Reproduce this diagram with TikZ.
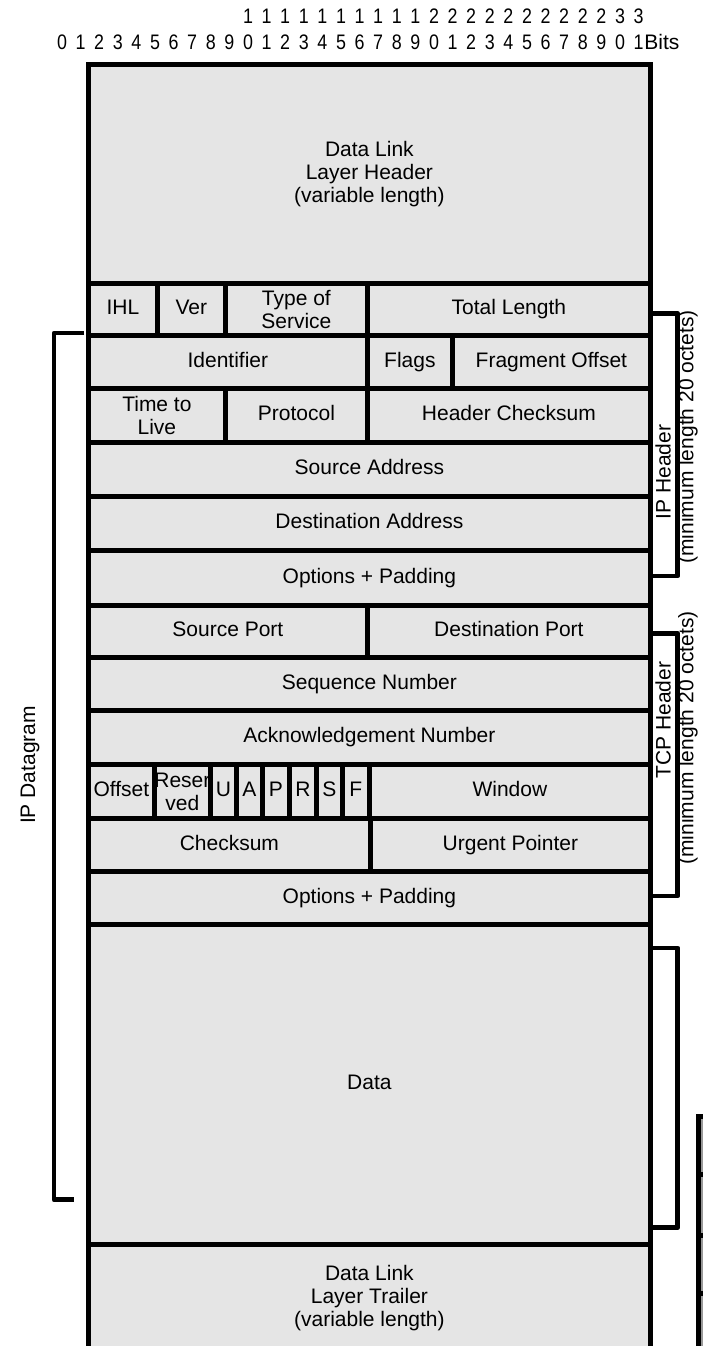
\documentclass[tikz,border=0pt]{standalone}
\usepackage{fontspec}
\setmainfont{Liberation Sans}
\newfontfamily\narrowfont[FakeStretch=0.85]{Liberation Sans}
\usetikzlibrary{calc}
\newcommand\mkcell[6]{\node[cell, minimum width=#4pt-#2pt, minimum height=#5pt-#3pt] (#1) at (#2,#3) {\vphantom{Ag}#6};}
\begin{document}
\begin{tikzpicture}[x=1pt,y=-1pt,
  cell/.style={draw, line width=4.8pt, fill=black!10, inner sep=0pt, anchor=north west, align=center, font=\fontsize{21}{23}\selectfont},
  brk/.style={draw, line width=4.8pt, line join=round},
  lbl/.style={font=\fontsize{21}{23}\selectfont, rotate=90, inner sep=0pt},
  bit/.style={font=\narrowfont\fontsize{21}{21}\selectfont, inner sep=0pt}]
\useasboundingbox (0,0) rectangle (702,1346);
% bit ruler
\foreach \i in {0,...,31} {
  \pgfmathtruncatemacro\d{mod(\i,10)}
  \node[bit] (b\i) at ({62+18.6*\i},42) {\d};
}
\foreach \i in {10,...,31} {
  \pgfmathtruncatemacro\d{\i/10}
  \node[bit] (t\i) at ({62+18.6*\i},16) {\d};
}
\node[bit, font=\fontsize{21}{21}\selectfont, anchor=west] (bits) at ($(b31.east)+(0.5,0)$) {Bits};
% cells
\mkcell{dlh}{86}{62}{648}{281}{Data Link\\Layer Header\\(variable length)}
\mkcell{ihl}{86}{281}{155}{333}{IHL}
\mkcell{ver}{155}{281}{223}{333}{Ver}
\mkcell{tos}{223}{281}{365}{333}{Type of\\Service}
\mkcell{tlen}{365}{281}{648}{333}{Total Length}
\mkcell{ident}{86}{333}{365}{386}{Identifier}
\mkcell{flags}{365}{333}{450}{386}{Flags}
\mkcell{frag}{450}{333}{648}{386}{Fragment Offset}
\mkcell{ttl}{86}{386}{223}{440}{Time to\\Live}
\mkcell{proto}{223}{386}{365}{440}{Protocol}
\mkcell{hcs}{365}{386}{648}{440}{Header Checksum}
\mkcell{src}{86}{440}{648}{494}{Source Address}
\mkcell{dst}{86}{494}{648}{548}{Destination Address}
\mkcell{opts}{86}{548}{648}{603}{Options + Padding}
\mkcell{sport}{86}{603}{365}{655}{Source Port}
\mkcell{dport}{365}{603}{648}{655}{Destination Port}
\mkcell{seq}{86}{655}{648}{708}{Sequence Number}
\mkcell{ack}{86}{708}{648}{762}{Acknowledgement Number}
\mkcell{off}{86}{762}{152}{816}{Offset}
\mkcell{res}{152}{762}{208}{816}{\fontsize{21}{20}\selectfont Reser\\ved}
\mkcell{fu}{208}{762}{234}{816}{U}
\mkcell{fa}{234}{762}{260}{816}{A}
\mkcell{fp}{260}{762}{287}{816}{P}
\mkcell{fr}{287}{762}{314}{816}{R}
\mkcell{fs}{314}{762}{340}{816}{S}
\mkcell{ff}{340}{762}{367}{816}{F}
\mkcell{win}{367}{762}{648}{816}{Window}
\mkcell{cks}{86}{816}{368}{869}{Checksum}
\mkcell{urg}{368}{816}{648}{869}{Urgent Pointer}
\mkcell{topts}{86}{869}{648}{922}{Options + Padding}
\mkcell{data}{86}{922}{648}{1242}{Data}
\mkcell{dlt}{86}{1242}{648}{1350}{Data Link\\Layer Trailer\\(variable length)}
% partial boxes at bottom right
\begin{scope}[cell/.append style={fill=black!40}]
\mkcell{p1}{696}{1114}{730}{1172}{}
\mkcell{p2}{696}{1172}{730}{1233}{}
\mkcell{p3}{696}{1233}{730}{1291}{}
\mkcell{p4}{696}{1291}{730}{1360}{}
\end{scope}
% brackets
\coordinate (ipb) at ($(tlen.east)+(0,4)$);
\coordinate (ipe) at ($(opts.east)+(0,-2)$);
\draw[brk] (ipb) -- ++(25,0) |- (ipe);
\coordinate (tcpb) at ($(dport.east)+(0,2)$);
\coordinate (tcpe) at ($(topts.east)+(0,-2)$);
\draw[brk] (tcpb) -- ++(25,0) |- (tcpe);
\coordinate (db) at ($(data.north east)+(0,26)$);
\coordinate (de) at ($(data.south east)+(0,-19)$);
\draw[brk] (db) -- ++(25,0) |- (de);
\coordinate (lb) at ($(ident.north west)+(-2,0)$);
\coordinate (le) at ($(data.south west)+(-20,-47)$);
\draw[brk] (lb) -- ++(-30,0) |- ($(le)+(8,0)$);
% labels
\node[lbl] (iph) at (663,472) {IP Header};
\node[lbl] (ipm) at (688,437) {(minimum length 20 octets)};
\node[lbl] (tcph) at (663,720) {TCP Header};
\node[lbl] (tcpm) at (688,738) {(minimum length 20 octets)};
\node[lbl] (ipd) at (30,765) {IP Datagram};
\end{tikzpicture}
\end{document}
